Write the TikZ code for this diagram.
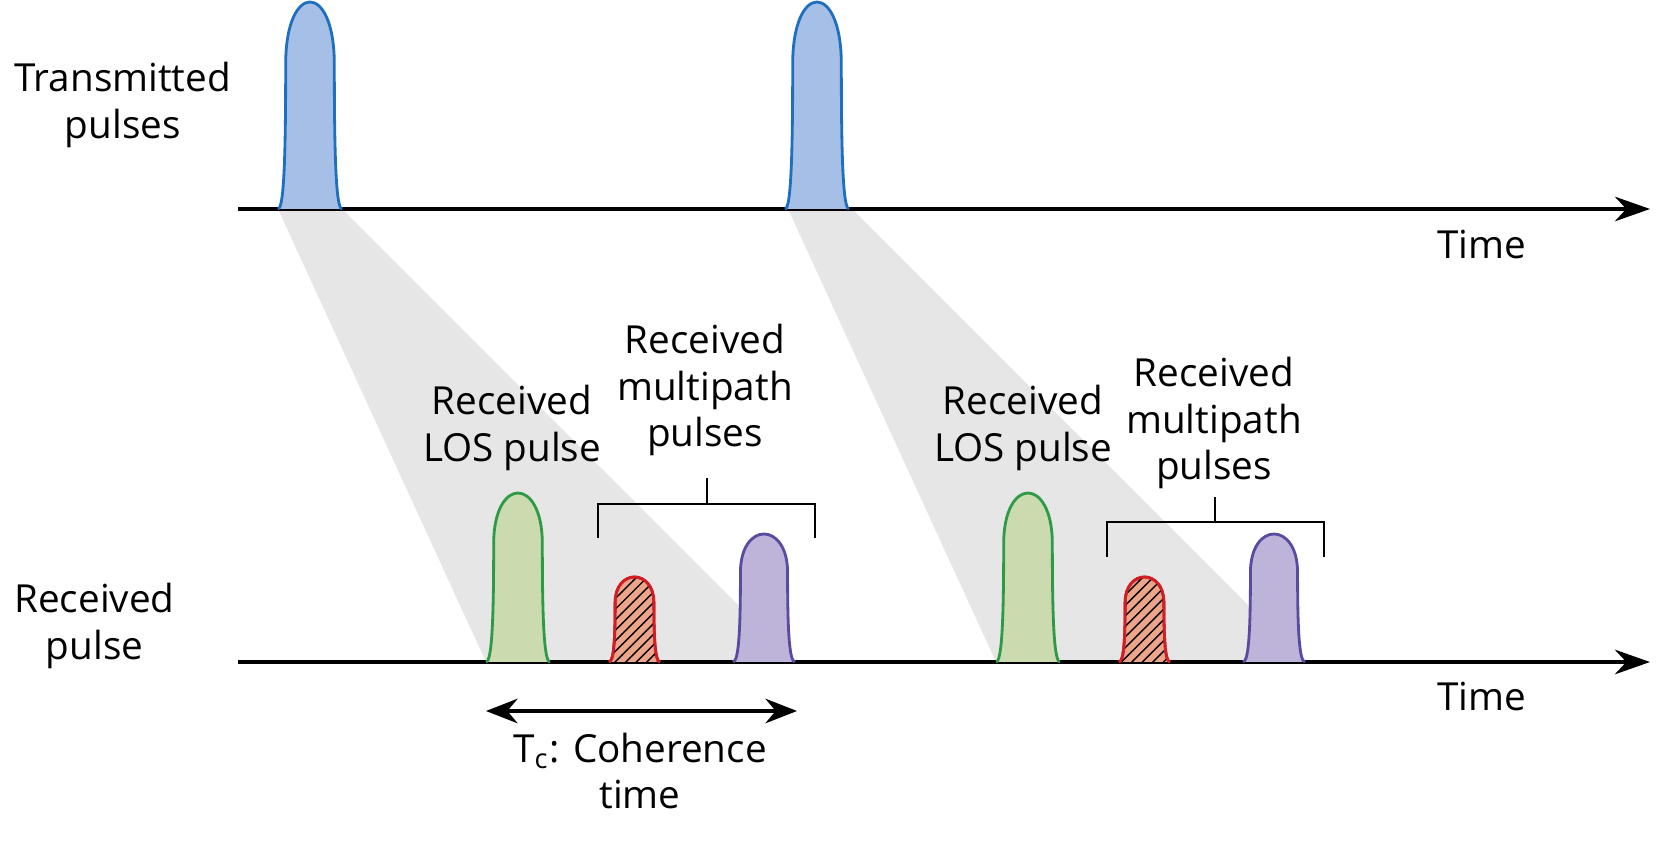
\documentclass[tikz,border=0pt]{standalone}
\usepackage{fontspec}
\setmainfont{Open Sans}
\usetikzlibrary{patterns,arrows.meta}
\definecolor{txblue}{HTML}{A6BFE6}
\definecolor{txblueline}{HTML}{1F6FBF}
\definecolor{losgreen}{HTML}{CCDBAF}
\definecolor{losgreenline}{HTML}{2E9A48}
\definecolor{mpred}{HTML}{EDA58A}
\definecolor{mpredline}{HTML}{D01E26}
\definecolor{mppurple}{HTML}{BEB4DA}
\definecolor{mppurpleline}{HTML}{5B4BA0}
\tikzset{
  lbl/.style={align=center,font=\fontsize{11}{13.2}\selectfont},
  axis/.style={line width=0.9pt,-{Stealth[length=10pt,width=7pt]}},
  bracket/.style={line width=0.6pt},
  cone/.style={fill=black!12,opacity=0.8},
}
% pulse: x, width, base y, height, style
\newcommand{\pulse}[5]{%
  \draw[#5,line width=0.8pt] (#1,#3) .. controls ++(0.1*#2,0) and ++(0,-0.4*#4) .. ++(0.12*#2,0.7*#4)
    .. controls ++(0,0.4*#4) and ++(0,0.4*#4) .. ++(0.76*#2,0)
    .. controls ++(0,-0.4*#4) and ++(-0.1*#2,0) .. ++(0.12*#2,-0.7*#4);}
\begin{document}
\begin{tikzpicture}
\useasboundingbox (0,0) rectangle (16.63,8.66);

% shading cones
\fill[cone] (2.78,6.57) -- (3.42,6.57) -- (7.95,2.04) -- (4.86,2.04) -- cycle;
\fill[cone] (7.88,6.57) -- (8.52,6.57) -- (13.05,2.04) -- (9.96,2.04) -- cycle;

% axes
\coordinate (t0) at (2.38,6.57);
\coordinate (t1) at (16.5,6.57);
\coordinate (r0) at (2.38,2.04);
\coordinate (r1) at (16.5,2.04);
\draw[axis] (t0) -- (t1);
\draw[axis] (r0) -- (r1);

% transmitted pulses
\pulse{2.78}{0.64}{6.57}{2.07}{fill=txblue,draw=txblueline}
\pulse{7.85}{0.64}{6.57}{2.07}{fill=txblue,draw=txblueline}

% received pulses
\foreach \dx in {0,5.1}{
  \pulse{4.86+\dx}{0.64}{2.04}{1.69}{fill=losgreen,draw=losgreenline}
  \pulse{6.09+\dx}{0.51}{2.04}{0.85}{fill=mpred,draw=mpredline}
  \pulse{6.09+\dx}{0.51}{2.04}{0.85}{pattern=north east lines,draw=mpredline}
  \pulse{7.33+\dx}{0.62}{2.04}{1.28}{fill=mppurple,draw=mppurpleline}
}

% brackets
\draw[bracket] (5.98,3.28) -- (5.98,3.62) -- (8.15,3.62) -- (8.15,3.28);
\draw[bracket] (7.07,3.62) -- (7.07,3.88);
\draw[bracket] (11.07,3.09) -- (11.07,3.44) -- (13.24,3.44) -- (13.24,3.09);
\draw[bracket] (12.15,3.44) -- (12.15,3.69);

% coherence time
\coordinate (c0) at (4.86,1.55);
\coordinate (c1) at (7.97,1.55);
\draw[line width=0.9pt,{Stealth[length=9pt,width=7pt]}-{Stealth[length=9pt,width=7pt]}] (c0) -- (c1);
\node[lbl] (tc) at (6.4,0.95) {T\textsubscript{c}: Coherence\\time};

% labels
\node[lbl,anchor=west] (txlbl) at (0.02,7.61) {Transmitted\\pulses};
\node[lbl,anchor=west] (rxlbl) at (0.02,2.4) {Received\\pulse};
\node[lbl] (time1) at (14.82,6.21) {Time};
\node[lbl] (time2) at (14.82,1.69) {Time};
\node[lbl] (los1) at (5.12,4.38) {Received\\LOS pulse};
\node[lbl] (los2) at (10.23,4.38) {Received\\LOS pulse};
\node[lbl] (mp1) at (7.05,4.76) {Received\\multipath\\pulses};
\node[lbl] (mp2) at (12.14,4.43) {Received\\multipath\\pulses};
\end{tikzpicture}
\end{document}
